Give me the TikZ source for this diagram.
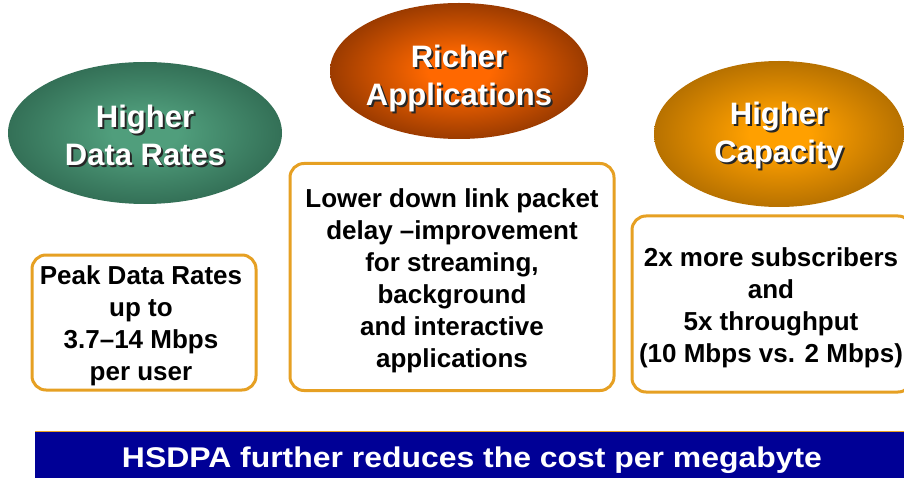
\documentclass[tikz,border=0pt]{standalone}
\usepackage{fontspec}
\setmainfont{Liberation Sans}
\usetikzlibrary{shapes.geometric}
\definecolor{boxorange}{RGB}{230,160,35}
\definecolor{bandblue}{RGB}{0,0,150}
\definecolor{gcen}{RGB}{80,158,124}
\definecolor{gmid}{RGB}{44,100,77}
\definecolor{gedge}{RGB}{28,66,49}
\definecolor{ocen}{RGB}{255,104,0}
\definecolor{omid}{RGB}{140,52,0}
\definecolor{oedge}{RGB}{84,34,0}
\definecolor{ycen}{RGB}{255,160,0}
\definecolor{ymid}{RGB}{172,106,0}
\definecolor{yedge}{RGB}{108,68,0}
\pgfdeclareradialshading{greenball}{\pgfpoint{0bp}{0bp}}{color(0bp)=(gcen); color(6bp)=(gcen); color(30bp)=(gmid); color(50bp)=(gedge); color(100bp)=(gedge)}
\pgfdeclareradialshading{orangeball}{\pgfpoint{0bp}{0bp}}{color(0bp)=(ocen); color(6bp)=(ocen); color(28bp)=(omid); color(50bp)=(oedge); color(100bp)=(oedge)}
\pgfdeclareradialshading{amberball}{\pgfpoint{0bp}{0bp}}{color(0bp)=(ycen); color(6bp)=(ycen); color(28bp)=(ymid); color(50bp)=(yedge); color(100bp)=(yedge)}
\newcommand\shtxt[1]{\makebox[0pt][l]{\hspace{2pt}\raisebox{-2pt}{\color{black!85}#1}}#1}
\tikzset{
  bubble/.style={ellipse, inner sep=0pt},
  bubbletext/.style={text=white, align=center, inner sep=0pt,
    font=\bfseries\fontsize{31}{38}\selectfont},
  infobox/.style={draw=boxorange, line width=3pt, rounded corners=14pt,
    fill=white, inner sep=0pt},
  boxtext/.style={align=center, inner sep=0pt,
    font=\bfseries\fontsize{26}{32}\selectfont},
  band/.style={fill=bandblue, draw=none, inner sep=0pt}
}
\begin{document}
\begin{tikzpicture}[x=1pt,y=-1pt]
\useasboundingbox (0,0) rectangle (904,478);
\clip (0,0) rectangle (904,478);
\fill[white] (0,0) rectangle (904,478);
% ellipses
\node[bubble, shading=greenball, minimum width=274pt, minimum height=142pt] (rates) at (145,133) {};
\node[bubbletext] (ratesT) at ([yshift=-3pt]rates.center) {\shtxt{Higher}\\\shtxt{Data Rates}};
\node[bubble, shading=orangeball, minimum width=258pt, minimum height=136pt] (apps) at (459,71) {};
\node[bubbletext] (appsT) at ([yshift=-8pt]apps.center) {\shtxt{Richer}\\\shtxt{Applications}};
\node[bubble, shading=amberball, minimum width=250pt, minimum height=146pt] (cap) at (779,134) {};
\node[bubbletext] (capT) at ([yshift=-2pt]cap.center) {\shtxt{Higher}\\\shtxt{Capacity}};
% boxes
\node[infobox, minimum width=224pt, minimum height=135pt] (peak) at (144,322.5) {};
\node[boxtext] (peakT) at ([xshift=-3pt,yshift=-3pt]peak.center)
  {Peak Data Rates\\up to\\3.7–14 Mbps\\per user};
\node[infobox, minimum width=324pt, minimum height=227pt] (delay) at (452,277) {};
\node[boxtext] (delayT) at ([yshift=-4pt]delay.center)
  {Lower down link packet\\delay –improvement\\for streaming,\\background\\and interactive\\applications};
\node[infobox, minimum width=280pt, minimum height=176pt] (subs) at (772,304) {};
\node[boxtext] (subsT) at ([xshift=-1pt,yshift=-4pt]subs.center)
  {2x more subscribers\\and\\5x throughput\\(10 Mbps vs. 2 Mbps)};
% bottom band
\node[band, minimum width=880pt, minimum height=64pt, anchor=north west] (bandbox) at (35,431) {};
\draw[boxorange, line width=1pt] (bandbox.north west) -- (bandbox.north east);
\node[text=white, font=\bfseries\fontsize{28.5}{34}\selectfont, inner sep=0pt] (slogan) at (472,460)
  {\scalebox{1.12}[1]{HSDPA further reduces the cost per megabyte}};
\end{tikzpicture}
\end{document}
